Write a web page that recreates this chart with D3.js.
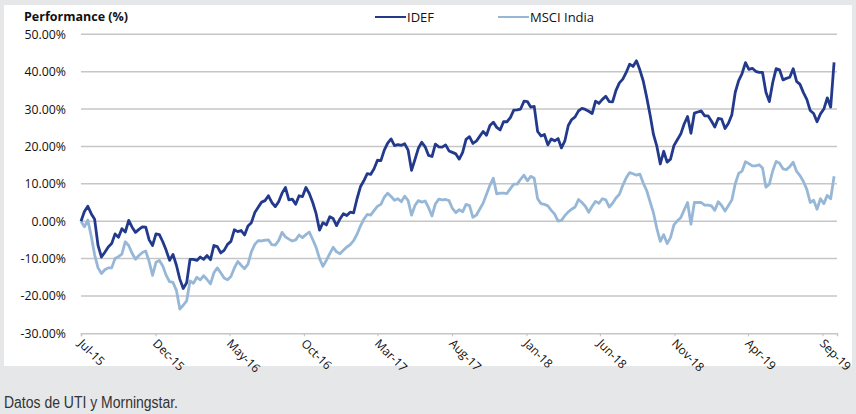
<!DOCTYPE html>
<html>
<head>
<meta charset="utf-8">
<script src="https://cdn.jsdelivr.net/npm/d3@7"></script>
<style>
  html, body { margin: 0; padding: 0; background: #e6e7e9; }
  svg { display: block; }
</style>
</head>
<body>
<svg id="chart" width="856" height="414"></svg>
<script>
// ---- data ----
const seriesNames = ["IDEF", "MSCI India"];
const startDate = "2015-07-01";   // first weekly observation
const axisEnd = "2019-10-01";
const tickLabels = ["Jul-15","Dec-15","May-16","Oct-16","Mar-17","Aug-17","Jan-18","Jun-18","Nov-18","Apr-19","Sep-19"];
const yTicks = [-30, -20, -10, 0, 10, 20, 30, 40, 50];

// weekly performance (%), IDEF
const idef = [
  0, 2.6, 4.0, 2.0, 0.5, -6.5, -9.6, -8.3, -6.9, -6.0,
  -3.4, -4.3, -2.0, -2.9, 0.2, -1.6, -3.0, -2.2, -1.5, -1.6,
  -5.0, -6.5, -3.4, -3.6, -5.5, -7.8, -10.5, -8.9, -11.8, -15.5,
  -18.0, -16.5, -10.2, -10.2, -10.5, -9.6, -10.2, -9.2, -10.3, -6.5,
  -6.8, -8.5, -7.8, -6.2, -5.4, -2.3, -2.8, -2.5, -3.7, -1.3,
  -0.4, 2.3, 3.7, 5.1, 5.5, 6.8, 5.0, 3.9, 5.2, 7.5,
  9.0, 5.7, 5.9, 4.5, 6.8, 6.6, 9.0, 7.4, 5.0, 2.0,
  -2.4, -0.4, -1.0, 1.2, 0.7, -1.2, 0.6, 2.0, 1.5, 2.4,
  2.2, 6.0, 9.2, 10.8, 12.7, 12.5, 14.0, 16.3, 16.2, 19.0,
  20.9, 22.0, 20.2, 20.5, 20.3, 20.7, 19.0, 13.6, 16.5, 19.5,
  21.1, 19.9, 17.6, 17.3, 20.6, 19.9, 19.8, 20.4, 18.8, 18.4,
  18.0, 16.6, 18.4, 21.9, 22.6, 20.8, 21.4, 22.7, 24.0, 23.0,
  25.6, 26.5, 25.1, 24.4, 26.6, 26.6, 27.7, 29.7, 29.8, 30.0,
  32.1, 32.0, 30.5, 30.7, 24.0, 22.8, 23.2, 20.4, 22.0, 21.5,
  22.1, 19.6, 21.5, 25.6, 27.2, 27.9, 29.5, 30.2, 29.9, 29.4,
  28.8, 32.1, 31.5, 32.6, 33.4, 32.0, 31.9, 35.0, 37.0, 38.0,
  39.8, 42.0, 41.4, 42.9, 40.5, 37.5, 33.2, 28.5, 23.2, 20.0,
  15.3, 18.7, 15.8, 16.6, 20.2, 21.8, 23.3, 26.0, 28.0, 23.5,
  28.9, 29.2, 29.5, 28.2, 28.2, 26.8, 25.2, 27.5, 27.3, 24.8,
  26.2, 28.5, 34.5, 37.6, 39.5, 42.4, 40.6, 40.9, 40.1, 39.8,
  39.8, 34.5, 32.0, 37.1, 40.8, 40.5, 37.8, 38.2, 38.5, 40.8,
  37.4, 36.6, 34.4, 32.6, 29.6, 28.8, 26.6, 28.7, 30.0, 33.0,
  30.5, 42.5
];

// weekly performance (%), MSCI India
const msci = [
  0, -1.5, 0.3, -4.0, -9.0, -12.5, -14.0, -13.0, -12.5, -12.5,
  -10.0, -9.5, -8.8, -5.5, -6.5, -8.6, -10.2, -9.2, -8.4, -8.0,
  -10.8, -14.5, -11.0, -10.5, -12.0, -14.5, -16.2, -16.4, -18.5, -23.5,
  -22.5, -21.3, -16.0, -16.6, -15.0, -15.7, -14.6, -15.6, -16.8, -13.8,
  -12.5, -13.8, -15.2, -15.7, -14.8, -12.5, -10.8, -11.8, -12.7, -11.5,
  -8.2, -6.2, -5.2, -5.3, -5.1, -5.0, -6.3, -6.4, -5.2, -3.0,
  -4.2, -4.8, -5.3, -5.0, -3.7, -4.4, -3.6, -2.9, -4.9, -7.0,
  -10.0, -12.1, -10.5, -8.7, -7.0, -8.2, -8.7, -7.8, -6.9, -6.3,
  -5.2, -3.5, -1.3, 0.5, 1.8, 1.6, 2.8, 4.0, 4.5, 6.4,
  7.5, 6.6, 5.6, 6.0, 5.2, 6.7, 5.5, 1.6, 4.2, 5.5,
  5.1, 5.4, 3.6, 1.4, 4.6, 5.9, 5.7, 5.8, 5.5, 3.4,
  2.3, 3.1, 2.5, 4.5, 4.2, 1.0, 1.6, 3.2, 4.8, 7.2,
  9.6, 11.5, 7.3, 7.5, 7.5, 7.4, 8.7, 9.9, 9.9, 11.2,
  12.3, 10.8, 12.0, 11.5, 6.0, 4.7, 4.5, 4.1, 2.9, 1.9,
  0.0, 0.2, 1.5, 2.5, 3.2, 3.8, 5.8, 5.0, 4.0, 2.4,
  4.0, 5.3, 4.8, 6.0, 5.7, 3.8, 4.8, 6.2, 7.2, 9.6,
  11.6, 13.0, 12.7, 12.3, 12.6, 10.2, 8.2, 5.2, 2.2, -2.0,
  -5.4, -3.6, -6.0, -4.4, -1.0, 0.1, 0.9, 3.0, 5.0, -0.8,
  5.0, 5.0, 5.0, 4.3, 4.3, 4.1, 2.9, 5.2, 4.2, 2.7,
  4.2, 5.7, 10.0, 12.8, 13.4, 15.9, 15.4, 14.8, 14.8, 15.1,
  14.2, 9.1, 9.9, 13.5, 16.0, 15.5, 14.0, 13.8, 14.6, 15.8,
  13.3, 12.2, 10.6, 8.5, 5.0, 5.6, 3.2, 6.0, 4.7, 6.9,
  6.0, 12.0
];

// ---- chart ----
const colors = { "IDEF": "#233a8c", "MSCI India": "#97b7d7" };
const font = "'Open Sans', Lato, sans-serif";

const svg = d3.select("#chart");
// white panel
svg.append("rect").attr("x", 4).attr("y", 5).attr("width", 848).attr("height", 361).attr("fill", "#ffffff");

const parseISO = d3.timeParse("%Y-%m-%d");
const parseTick = d3.timeParse("%b-%y");
const t0 = parseISO(startDate);
const dates = idef.map((_, i) => d3.timeDay.offset(t0, 7 * i));
const tickDates = tickLabels.map(parseTick);

const x = d3.scaleTime().domain([t0, parseISO(axisEnd)]).range([81, 837]);
const y = d3.scaleLinear().domain([-30, 50]).range([333.3, 34.3]);

// gridlines
svg.append("g")
  .selectAll("line").data(yTicks.filter(v => v !== -30)).join("line")
  .attr("x1", 81).attr("x2", 837)
  .attr("y1", d => y(d)).attr("y2", d => y(d))
  .attr("stroke", "#c6c6c6").attr("stroke-width", 1.5);

// y labels
svg.append("g")
  .selectAll("text").data(yTicks).join("text")
  .attr("x", 66).attr("y", d => y(d) + 4.5)
  .attr("text-anchor", "end")
  .attr("font-family", font).attr("font-size", 12.3).attr("fill", "#111")
  .text(d => d.toFixed(2) + "%");

// x axis
const xAxis = d3.axisBottom(x).tickValues(tickDates).tickSize(3).tickFormat((d, i) => tickLabels[i]);
const gx = svg.append("g").attr("transform", `translate(0,${y(-30)})`).call(xAxis);
gx.select(".domain").attr("stroke", "#c6c6c6").attr("stroke-width", 1.5);
gx.selectAll(".tick line").attr("stroke", "#c6c6c6").attr("stroke-width", 1.2);
gx.selectAll(".tick text")
  .attr("font-family", font).attr("font-size", 12).attr("fill", "#111")
  .attr("text-anchor", "start")
  .attr("dy", 0).attr("y", 0)
  .attr("transform", "translate(-4,11) rotate(45)");

// lines
const line = d3.line().x((d, i) => x(dates[i])).y(d => y(d)).curve(d3.curveLinear);
const seriesData = [["MSCI India", msci], ["IDEF", idef]];
svg.append("g").selectAll("path").data(seriesData).join("path")
  .attr("d", d => line(d[1]))
  .attr("fill", "none")
  .attr("stroke", d => colors[d[0]])
  .attr("stroke-width", 2.8)
  .attr("stroke-linejoin", "round");

// title
svg.append("text").attr("x", 24).attr("y", 21)
  .attr("font-family", font).attr("font-size", 12.5).attr("font-weight", "bold").attr("fill", "#111")
  .text("Performance (%)");

// legend
const legendPos = [{ name: "IDEF", x: 375 }, { name: "MSCI India", x: 498 }];
const lg = svg.append("g").selectAll("g").data(legendPos).join("g")
  .attr("transform", d => `translate(${d.x},17)`);
lg.append("line").attr("x1", 0).attr("x2", 31).attr("y1", 0).attr("y2", 0)
  .attr("stroke", d => colors[d.name]).attr("stroke-width", 2);
lg.append("text").attr("x", 32).attr("y", 5)
  .attr("font-family", font).attr("font-size", 13).attr("fill", "#111")
  .text(d => d.name);

// source caption
svg.append("text").attr("x", 4).attr("y", 408)
  .attr("font-family", "'Liberation Sans', sans-serif")
  .attr("font-size", 16).attr("fill", "#333")
  .attr("textLength", 174).attr("lengthAdjust", "spacingAndGlyphs")
  .text("Datos de UTI y Morningstar.");
</script>
</body>
</html>
